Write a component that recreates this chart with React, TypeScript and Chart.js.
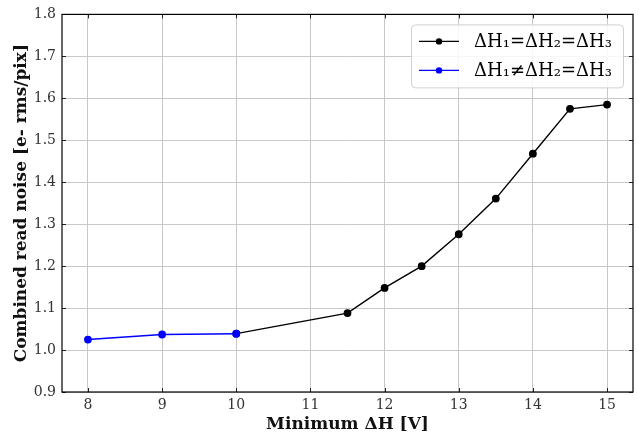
import React, { useEffect, useRef } from "react";
import { Chart, registerables } from "chart.js";

Chart.register(...registerables);

const blueX = [8, 9, 10];
const blueY = [1.025, 1.037, 1.039];
const blackX = [10, 11.5, 12, 12.5, 13, 13.5, 14, 14.5, 15];
const blackY = [1.039, 1.088, 1.148, 1.2, 1.276, 1.361, 1.468, 1.575, 1.585];
const xTicks = [8, 9, 10, 11, 12, 13, 14, 15];
const yTicks = [0.9, 1.0, 1.1, 1.2, 1.3, 1.4, 1.5, 1.6, 1.7, 1.8];
const legendLabels = ["ΔH₁=ΔH₂=ΔH₃", "ΔH₁≠ΔH₂=ΔH₃"];
const legendColors = ["#000000", "#0000ff"];

const SERIF = "'DejaVu Serif', 'Liberation Serif', serif";

const framePlugin = {
  id: "frame",
  afterDraw(chart: any) {
    const { ctx, chartArea: a, scales } = chart;
    ctx.save();
    ctx.strokeStyle = "#222";
    ctx.lineWidth = 1;
    const L = 4;
    ctx.beginPath();
    for (const v of xTicks) {
      const px = Math.round(scales.x.getPixelForValue(v)) + 0.5;
      ctx.moveTo(px, a.bottom);
      ctx.lineTo(px, a.bottom - L);
      ctx.moveTo(px, a.top);
      ctx.lineTo(px, a.top + L);
    }
    for (const v of yTicks) {
      const py = Math.round(scales.y.getPixelForValue(v)) + 0.5;
      ctx.moveTo(a.left, py);
      ctx.lineTo(a.left + L, py);
      ctx.moveTo(a.right, py);
      ctx.lineTo(a.right - L, py);
    }
    ctx.stroke();
    ctx.lineWidth = 1.2;
    ctx.strokeStyle = "#000";
    ctx.strokeRect(a.left, a.top, a.right - a.left, a.bottom - a.top);

    // legend
    const w = 212, h = 63;
    const x0 = a.right - 10 - w, y0 = a.top + 10;
    ctx.fillStyle = "rgba(255,255,255,0.85)";
    ctx.strokeStyle = "#d0d0d0";
    ctx.lineWidth = 1;
    ctx.beginPath();
    (ctx as any).roundRect(x0 + 0.5, y0 + 0.5, w, h, 4);
    ctx.fill();
    ctx.stroke();
    ctx.font = "18px " + SERIF;
    ctx.textBaseline = "middle";
    legendLabels.forEach((lab, i) => {
      const yy = y0 + 17 + i * 29;
      ctx.strokeStyle = legendColors[i];
      ctx.lineWidth = 1.3;
      ctx.beginPath();
      ctx.moveTo(x0 + 8, yy);
      ctx.lineTo(x0 + 48, yy);
      ctx.stroke();
      ctx.fillStyle = legendColors[i];
      ctx.beginPath();
      ctx.arc(x0 + 28, yy, 3.2, 0, Math.PI * 2);
      ctx.fill();
      ctx.fillStyle = "#000";
      ctx.textAlign = "left";
      ctx.fillText(lab, x0 + 63, yy + 1);
    });
    ctx.restore();
  },
};

export default function App() {
  const ref = useRef<HTMLCanvasElement>(null);
  useEffect(() => {
    document.body.style.margin = "0";
    const chart = new Chart(ref.current!, {
      type: "line",
      data: {
        datasets: [
          {
            label: legendLabels[0],
            data: blackX.map((x, i) => ({ x, y: blackY[i] })),
            borderColor: "#000",
            backgroundColor: "#000",
            borderWidth: 1.4,
            pointRadius: 3.2,
            pointHoverRadius: 3.2,
            order: 2,
          },
          {
            label: legendLabels[1],
            data: blueX.map((x, i) => ({ x, y: blueY[i] })),
            borderColor: "#0000ff",
            backgroundColor: "#0000ff",
            borderWidth: 1.4,
            pointRadius: 3.2,
            pointHoverRadius: 3.2,
            order: 1,
          },
        ],
      },
      options: {
        animation: false,
        responsive: false,
        layout: { padding: { left: 0, right: 6, top: 14, bottom: 0 } },
        plugins: { legend: { display: false }, tooltip: { enabled: false } },
        scales: {
          x: {
            type: "linear",
            min: 7.65,
            max: 15.35,
            afterBuildTicks: (s: any) => {
              s.ticks = xTicks.map((v) => ({ value: v }));
            },
            afterFit: (s: any) => {
              s.height = 43;
            },
            grid: { color: "#c8c8c8", lineWidth: 1, drawTicks: false },
            border: { display: false },
            ticks: {
              color: "#333",
              font: { family: SERIF, size: 14 },
              padding: 5,
              callback: (v: any) => String(v),
            },
            title: {
              display: true,
              text: "Minimum ΔH [V]",
              color: "#111",
              font: { family: SERIF, size: 17, weight: "bold" },
              padding: { top: 0, bottom: 0 },
            },
          },
          y: {
            type: "linear",
            min: 0.9,
            max: 1.8,
            afterBuildTicks: (s: any) => {
              s.ticks = yTicks.map((v) => ({ value: v }));
            },
            afterFit: (s: any) => {
              s.width = 62;
            },
            grid: { color: "#c8c8c8", lineWidth: 1, drawTicks: false },
            border: { display: false },
            ticks: {
              color: "#333",
              font: { family: SERIF, size: 14 },
              padding: 6,
              callback: (v: any) => Number(v).toFixed(1),
            },
            title: {
              display: true,
              text: "Combined read noise [e- rms/pix]",
              color: "#111",
              font: { family: SERIF, size: 17, weight: "bold" },
              padding: { top: 11, bottom: 2 },
            },
          },
        },
      },
      plugins: [framePlugin],
    });
    return () => chart.destroy();
  }, []);
  return (
    <div style={{ width: 639, height: 435 }}>
      <canvas ref={ref} width={639} height={435} />
    </div>
  );
}
